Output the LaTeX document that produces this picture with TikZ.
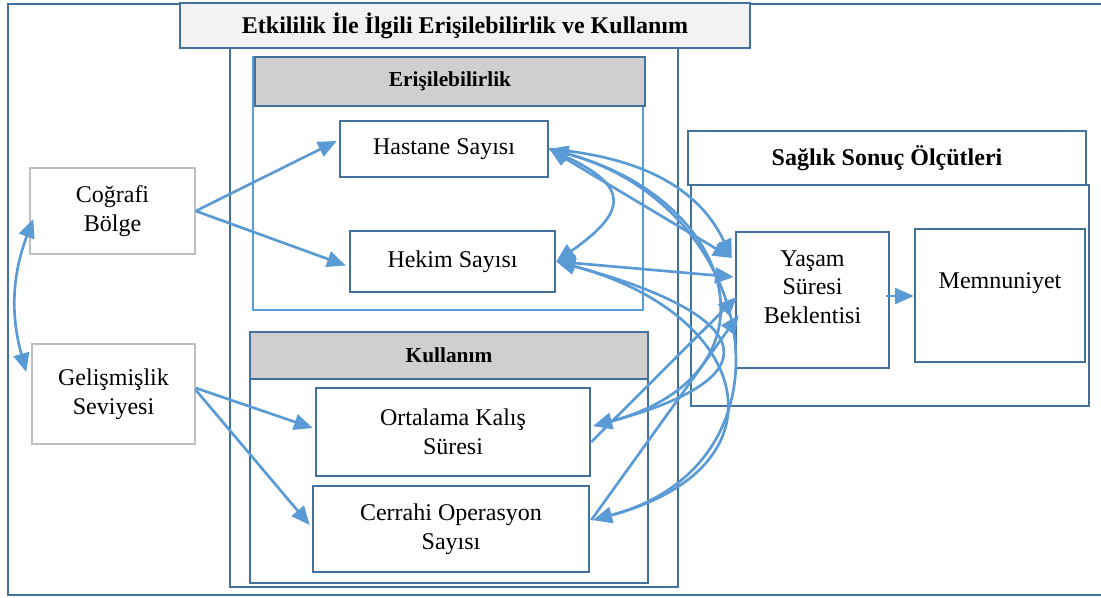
\documentclass[tikz,border=0pt]{standalone}
\usepackage{fontspec}
\setmainfont{Liberation Serif}
\usetikzlibrary{arrows.meta,calc}

\definecolor{boxblue}{HTML}{41719C}
\definecolor{linkblue}{HTML}{5B9BD5}
\definecolor{hdrgray}{HTML}{D0CECE}
\definecolor{titlegray}{HTML}{F2F2F2}
\newlength{\px}\setlength{\px}{0.75pt}

\tikzset{
  frame/.style={draw=boxblue,line width=2.6\px},
  box/.style={frame,fill=white,align=center,inner sep=0pt,font=\fontsize{18}{21.5}\selectfont},
  greybox/.style={box,draw=black!25,line width=1.5\px},
  hdr/.style={frame,fill=hdrgray,inner sep=0pt,font=\bfseries\fontsize{16}{19}\selectfont},
  bighdr/.style={frame,inner sep=0pt,font=\bfseries\fontsize{18}{21}\selectfont},
  link/.style={draw=linkblue,line width=2pt,-{Triangle[length=14pt,width=12pt]}},
  linkb/.style={link,{Triangle[length=14pt,width=12pt]}-{Triangle[length=14pt,width=12pt]}},
}

\begin{document}
\begin{tikzpicture}[x=\px,y=-\px]
\useasboundingbox (0,0) rectangle (1101,597);
\draw[frame] (1101,4) -- (8,4) -- (8,595) -- (1101,595);

% etkililik
\draw[frame] (230,48) rectangle (678,587);
\node[bighdr,fill=titlegray,minimum width=570\px,minimum height=45\px] (etktitle) at (465,25.5)
  {Etkililik İle İlgili Erişilebilirlik ve Kullanım};

\draw[draw=linkblue,line width=1.5\px] (253,57) rectangle (643,310);
\node[hdr,minimum width=390\px,minimum height=49\px] (erisim) at (450,81.5) {Erişilebilirlik};
\node[box,minimum width=208\px,minimum height=56\px] (hastane) at (444,149) {Hastane Sayısı};
\node[box,minimum width=205\px,minimum height=61\px] (hekim) at (452.5,261.5) {Hekim Sayısı};

\draw[frame] (250,332) rectangle (648,583);
\node[hdr,minimum width=398\px,minimum height=47\px] (kullanim) at (449,355.5) {Kullanım};
\node[box,minimum width=274\px,minimum height=88\px] (ortalama) at (453,432) {Ortalama Kalış\\Süresi};
\node[box,minimum width=276\px,minimum height=86\px] (cerrahi) at (451,529) {Cerrahi Operasyon\\Sayısı};

\node[greybox,minimum width=165\px,minimum height=86\px] (cografi) at (112.5,211) {Coğrafi\\Bölge};
\node[greybox,minimum width=163\px,minimum height=100\px] (gelismislik) at (113.5,394) {Gelişmişlik\\Seviyesi};

% sonuc olcutleri
\draw[frame] (691,185) rectangle (1089,406);
\node[bighdr,fill=white,minimum width=398\px,minimum height=54\px] (sonuc) at (887,158) {Sağlık Sonuç Ölçütleri};
\node[box,minimum width=153\px,minimum height=136\px] (yasam) at (812.5,300) {};
\node[align=center,inner sep=0pt,font=\fontsize{18}{21.5}\selectfont] (yasamtext) at (812.5,287) {Yaşam\\Süresi\\Beklentisi};
\node[box,minimum width=170\px,minimum height=133\px] (memnun) at (1000,295.5) {};
\node[inner sep=0pt,font=\fontsize{18}{21.5}\selectfont] (memnuntext) at (1000,283) {Memnuniyet};

% links
\draw[link] (cografi.east) -- ($(hastane.west)+(-2,-8)$);
\draw[link] (cografi.east) -- ($(hekim.west)+(-3,4)$);
\draw[link] ($(gelismislik.east)+(0,-6)$) -- ($(ortalama.west)+(-2,-4)$);
\draw[link] ($(gelismislik.east)+(0,-4)$) -- ($(cerrahi.west)+(-2,-4)$);
\draw[linkb] ($(cografi.west)+(4,8)$) to[bend right=18] ($(gelismislik.west)+(-5,-22)$);

\draw[linkb] (hastane.east) to[out=-25,in=35,looseness=2] (hekim.east);
\draw[linkb] (hastane.east) -- ($(yasam.west)+(-3,-42)$);
\draw[link] (hastane.east) to[out=-5,in=115] ($(yasam.west)+(-3,-42)$);
\draw[linkb] (hekim.east) -- ($(yasam.west)+(-1,-23)$);
\draw[link] ($(ortalama.east)+(0,10)$) -- ($(yasam.west)+(2,-3)$);
\draw[link] ($(cerrahi.east)+(1,-9)$) -- ($(yasam.west)+(4,15)$);

\draw[linkb] (hastane.east) to[out=-15,in=15,looseness=1.8] ($(ortalama.east)+(2,-6)$);
\draw[linkb] (hastane.east) to[out=-15,in=15,looseness=1.5] ($(cerrahi.east)+(3,-9)$);
\draw[linkb] (hekim.east) to[out=-15,in=15,looseness=3] ($(ortalama.east)+(2,-6)$);
\draw[linkb] (hekim.east) to[out=-15,in=15,looseness=2] ($(cerrahi.east)+(3,-9)$);

\draw[link] ($(yasam.east)+(-4,-4)$) -- ($(yasam.east -| memnun.west)+(0,-4)$);
\end{tikzpicture}
\end{document}
